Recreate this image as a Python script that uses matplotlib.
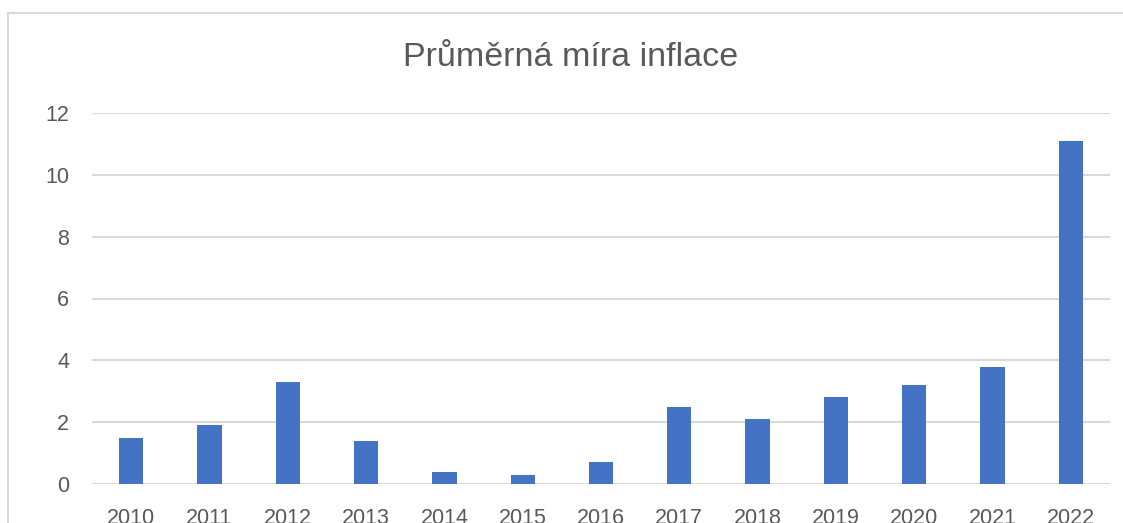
import matplotlib.pyplot as plt
from matplotlib.patches import Rectangle

# Data
years = ["2010", "2011", "2012", "2013", "2014", "2015", "2016",
         "2017", "2018", "2019", "2020", "2021", "2022"]
inflation = [1.5, 1.9, 3.3, 1.4, 0.4, 0.3, 0.7, 2.5, 2.1, 2.8, 3.2, 3.8, 11.1]
y_ticks = [0, 2, 4, 6, 8, 10, 12]

text_col = "#595959"
grid_col = "#D9D9D9"
bar_col = "#4472C4"

plt.rcParams["font.family"] = ["Liberation Sans", "DejaVu Sans"]

fig = plt.figure(figsize=(11.23, 5.23), dpi=100)

# chart frame (Excel style)
fig.patches.append(Rectangle((8 / 1123, -0.05), 1.1, 1 - 13 / 523 + 0.05,
                             transform=fig.transFigure, fill=False,
                             edgecolor=grid_col, linewidth=1.5))

ax = fig.add_axes([92 / 1123, 1 - 484 / 523, (1110 - 92) / 1123, (484 - 113) / 523])
x = range(len(years))
ax.bar(x, inflation, width=0.31, color=bar_col, zorder=3)

ax.set_xlim(-0.5, len(years) - 0.5)
ax.set_ylim(0, 12)
ax.set_yticks(y_ticks)
ax.set_xticks(list(x))
ax.set_xticklabels(years)
ax.grid(axis="y", color=grid_col, linewidth=1.5, zorder=0)
ax.tick_params(length=0, labelsize=15.5, colors=text_col)
ax.tick_params(axis="y", pad=16.5)
ax.tick_params(axis="x", pad=17)
for s in ax.spines.values():
    s.set_visible(False)

fig.text(0.5085, 1 - 58 / 523, "Průměrná míra inflace", ha="center", va="center",
         fontsize=24.5, color=text_col)

fig.savefig("out.png", dpi=100)
